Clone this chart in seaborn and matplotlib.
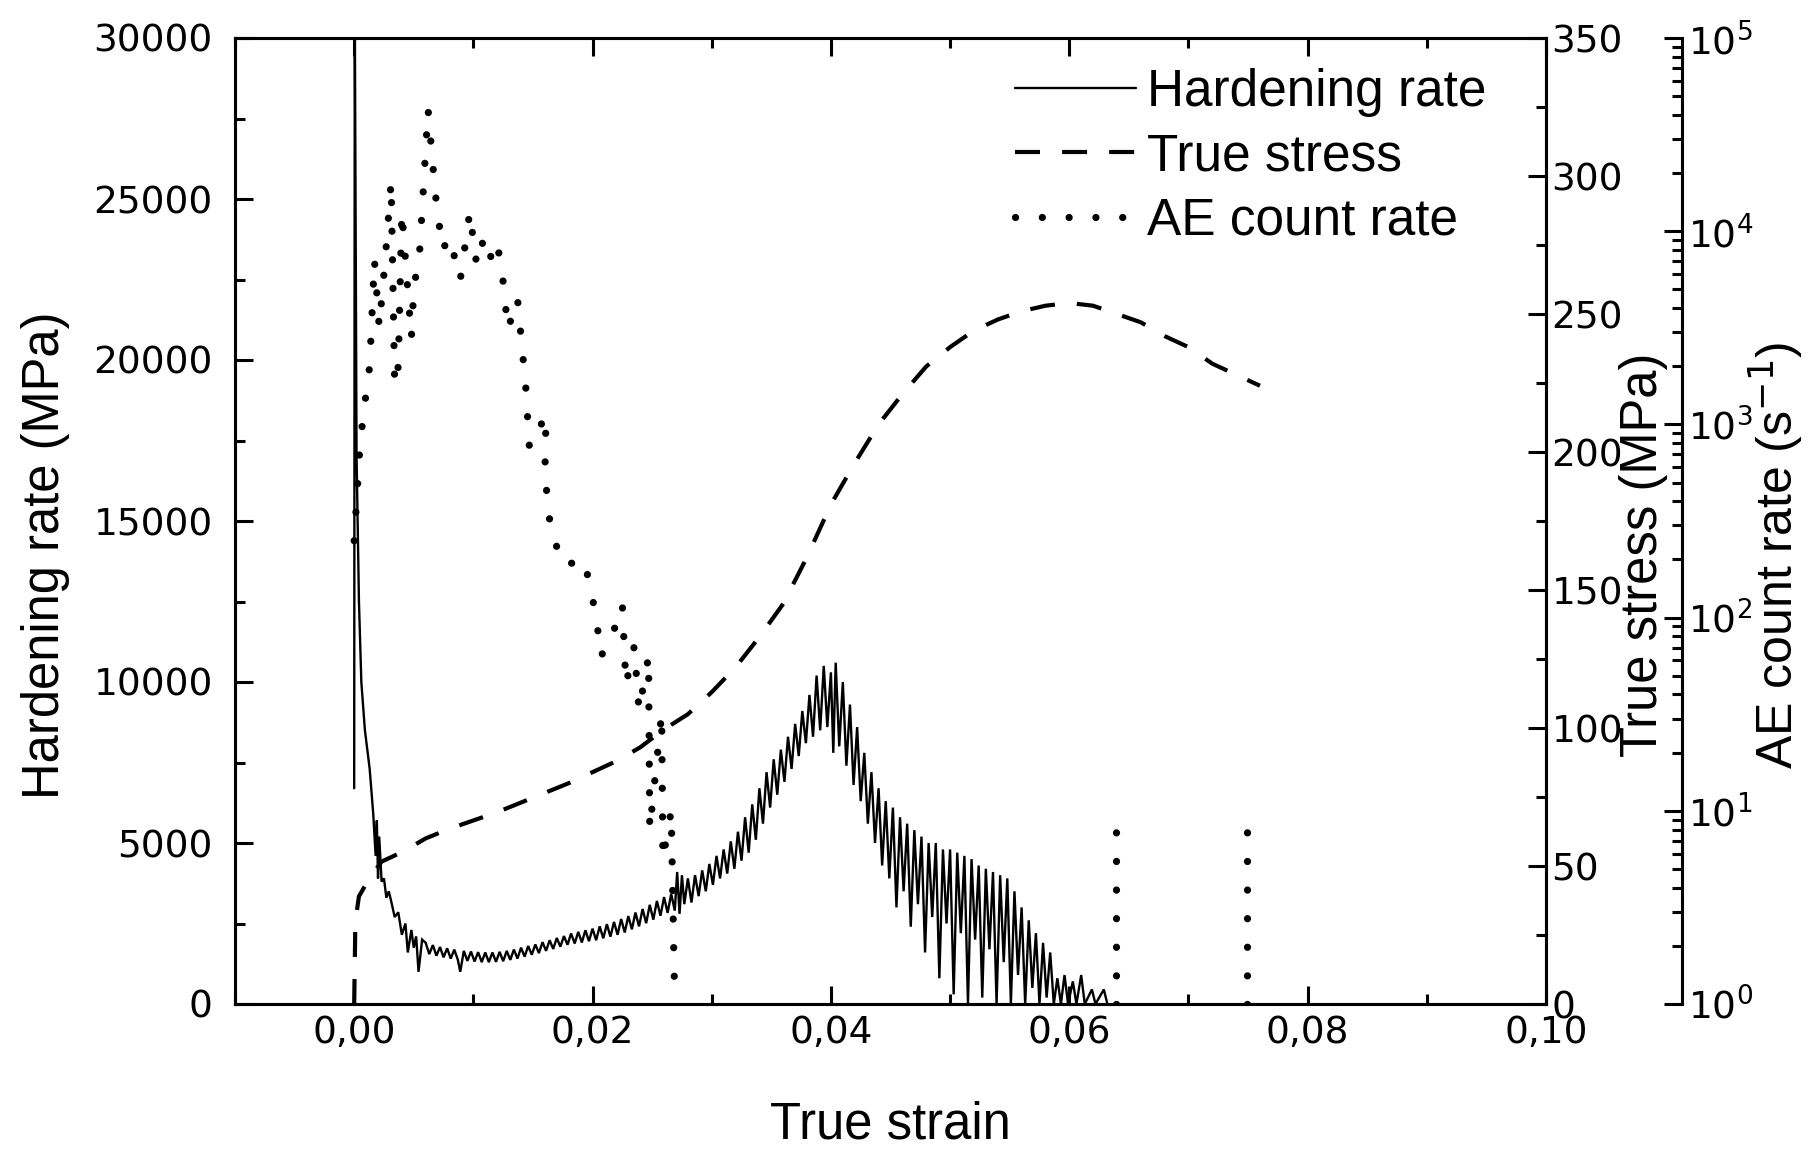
import numpy as np
import pandas as pd
import matplotlib
matplotlib.use("Agg")
import matplotlib.pyplot as plt
import seaborn as sns
from matplotlib.ticker import MultipleLocator, FuncFormatter, LogLocator, NullFormatter
from matplotlib.lines import Line2D

# ---------------- data ----------------
hr_strain = [
    0.0000, 0.00005, 0.0002, 0.0004, 0.0006, 0.0009, 0.0013, 0.0016, 0.0018, 0.0019,
    0.0020, 0.0021, 0.0023, 0.0025, 0.0027, 0.0029, 0.0031, 0.0034, 0.0037, 0.0040,
    0.0043, 0.0045, 0.0048, 0.0050, 0.0052, 0.0054, 0.0057,
    0.0060, 0.0063, 0.0066, 0.0069, 0.0072, 0.0075, 0.0078, 0.0081, 0.0084, 0.0087,
    0.0089, 0.0092, 0.0095, 0.0098, 0.0101, 0.0104, 0.0107, 0.0110, 0.0113, 0.0116,
    0.0119, 0.0122, 0.0125, 0.0128, 0.0131, 0.0134, 0.0137, 0.0140, 0.0143, 0.0146,
    0.0149, 0.0152, 0.0155, 0.0158, 0.0161, 0.0164, 0.0167, 0.0170, 0.0173, 0.0176,
    0.0179, 0.0182, 0.0185, 0.0188, 0.0191, 0.0194, 0.0197, 0.0200, 0.0203, 0.0206,
    0.0209, 0.0212, 0.0215, 0.0218, 0.0221, 0.0224, 0.0227, 0.0230, 0.0233, 0.0236,
    0.0239, 0.0242, 0.0245, 0.0248, 0.0251, 0.0254, 0.0257, 0.0260, 0.0263, 0.0266,
    0.0269, 0.0271, 0.0273, 0.0275, 0.0277, 0.0280, 0.0283, 0.0286, 0.0289, 0.0292,
    0.0295, 0.0298, 0.0301, 0.0304, 0.0307, 0.0310, 0.0313, 0.0316, 0.0319, 0.0322,
    0.0325, 0.0328, 0.0331, 0.0334, 0.0337, 0.0340, 0.0343, 0.0346, 0.0349, 0.0352,
    0.0355, 0.0358, 0.0361, 0.0364, 0.0367, 0.0370, 0.0373, 0.0376, 0.0379, 0.0382,
    0.0385, 0.0388, 0.0391, 0.0394, 0.0397, 0.0400, 0.0402, 0.0404, 0.0407, 0.0410,
    0.0413, 0.0416, 0.0419, 0.0422, 0.0425, 0.0428, 0.0431, 0.0434, 0.0437, 0.0440,
    0.0443, 0.0446, 0.0449, 0.0452, 0.0455, 0.0458, 0.0461, 0.0464, 0.0467, 0.0470,
    0.0473, 0.0476, 0.0479, 0.0482, 0.0485, 0.0488, 0.0491, 0.0494, 0.0497, 0.0500,
    0.0503, 0.0506, 0.0509, 0.0512, 0.0515, 0.0518, 0.0521, 0.0524, 0.0527, 0.0530,
    0.0533, 0.0536, 0.0539, 0.0542, 0.0545, 0.0548, 0.0551, 0.0554, 0.0557, 0.0560,
    0.0563, 0.0566, 0.0569, 0.0572, 0.0575, 0.0578, 0.0581, 0.0584, 0.0587, 0.0590,
    0.0593, 0.0596, 0.0599, 0.0603, 0.0606, 0.0610, 0.0613, 0.0619, 0.0622, 0.0629,
    0.0632,
]
hr_rate = [
    6700, 31000, 17000, 12500, 10000, 8500, 7300, 5900, 4600, 5700,
    3900, 5200, 3800, 3900, 3300, 3500, 3200, 2700, 2850, 2150,
    2500, 1600, 2300, 1750, 2100, 1000, 2000,
    1900, 1550, 1830, 1500, 1770, 1450, 1730, 1410, 1690, 1370,
    1000, 1650, 1340, 1630, 1320, 1610, 1300, 1600, 1300, 1600,
    1310, 1620, 1330, 1650, 1370, 1690, 1410, 1750, 1470, 1800,
    1530, 1850, 1580, 1920, 1650, 1980, 1710, 2050, 1780, 2110,
    1840, 2190, 1880, 2240, 1910, 2290, 1950, 2340, 1980, 2410,
    2040, 2480, 2090, 2550, 2150, 2640, 2220, 2730, 2320, 2840,
    2410, 2950, 2510, 3080, 2620, 3200, 2740, 3320, 2830, 3420,
    2900, 4100, 2800, 4000, 3100, 3900, 3150, 4000, 3350, 4150,
    3500, 4350, 3700, 4600, 3900, 4800, 4050, 5050, 4200, 5350,
    4450, 5800, 4700, 6200, 5100, 6700, 5600, 7200, 6100, 7600,
    6500, 7900, 6900, 8300, 7300, 8700, 7700, 9100, 8100, 9600,
    8300, 10200, 8500, 10500, 8600, 10300, 7800, 10600, 8000, 10000,
    7400, 9300, 6800, 8600, 6300, 7800, 5600, 7200, 5000, 6700,
    4300, 6300, 3900, 6100, 3000, 5800, 3500, 5600, 2400, 5400,
    3100, 5200, 1600, 5000, 2700, 5000, 800, 4800, 2500, 4800,
    300, 4700, 2200, 4600, 0, 4500, 2000, 4300, 200, 4200,
    1700, 4100, 0, 4000, 1300, 3900, 0, 3500, 900, 3000,
    0, 2600, 500, 2200, 0, 1900, 200, 1600, 0, 800,
    0, 900, 0, 700, 0, 900, 0, 450, 0, 450,
    0,
]

stress_strain = [0.0000, 0.0001, 0.0004, 0.0012, 0.0023, 0.0041, 0.0060, 0.0080,
                 0.0100, 0.0120, 0.0140, 0.0160, 0.0180, 0.0200, 0.0220, 0.0240,
                 0.0260, 0.0280, 0.0300, 0.0320, 0.0340, 0.0360, 0.0380, 0.0400,
                 0.0420, 0.0440, 0.0460, 0.0480, 0.0500, 0.0520, 0.0540, 0.0560,
                 0.0580, 0.0600, 0.0620, 0.0640, 0.0660, 0.0680, 0.0700, 0.0720,
                 0.0740, 0.0760]
stress_mpa = [0, 30, 39, 45, 51.6, 55.2, 60, 63.5,
              66.5, 69.5, 73, 76.5, 80, 84, 88, 93,
              99.5, 105, 113, 122, 133, 145, 162, 181,
              196, 210, 221, 231, 238, 244, 248, 251,
              253, 254, 253, 250, 247, 242, 238, 232,
              228, 224]

ae_strain = [0.0000, 0.0005, 0.0009, 0.0013, 0.0017, 0.0021, 0.0026, 0.0031, 0.0034, 0.0037,
             0.0040, 0.0048, 0.0050, 0.0055, 0.0062, 0.0068, 0.0074, 0.0080, 0.0089, 0.0097,
             0.0102, 0.0106, 0.0113, 0.0118, 0.0123, 0.0129, 0.0137, 0.0144, 0.0147, 0.0161,
             0.0160, 0.0165, 0.0176, 0.0193, 0.0203, 0.0207, 0.0216, 0.0225, 0.0228, 0.0235,
             0.0239, 0.0247, 0.0248, 0.0258, 0.0259, 0.0266, 0.0269,
             0.0639, 0.0639,
             0.0749, 0.0749]
ae_rate = [250, 800, 1300, 2000, 7100, 3200, 7100, 18000, 1600, 2000,
           12600, 2800, 5000, 8000, 42700, 15800, 8000, 9300, 5600, 12600,
           7100, 9300, 6800, 8900, 7200, 3100, 4500, 1550, 760, 1120,
           550, 280, 186, 200, 102, 63, 79, 117, 45, 71,
           33, 63, 8, 32, 5.6, 10, 1,
           1, 8,
           1, 8]
ae_burst = [0] * 47 + [1, 1] + [2, 2]

# ---------------- style ----------------
sns.set_theme(style="ticks")
plt.rcParams['font.family'] = ['DejaVu Sans']
for k in ['text.color', 'axes.labelcolor', 'xtick.color', 'ytick.color', 'axes.edgecolor']:
    plt.rcParams[k] = 'black'

LABEL_FONT = 'Liberation Sans'
LABEL_SIZE = 36.5
TICK_SIZE = 27
SPINE_W = 2.2
HR_LW = 1.7
ST_LW = 3.0
AE_LW = 5.2
ST_DASH = [6.0, 5.3]
AE_DASH = [0.01, 3.95]

fig = plt.figure(figsize=(18.09, 11.51), dpi=100)
ax = fig.add_axes([235 / 1809, 1 - 1004 / 1151, 1311 / 1809, 966 / 1151])
ax2 = ax.twinx()
ax3 = ax.twinx()

df_hr = pd.DataFrame({'strain': hr_strain, 'rate': hr_rate})
df_st = pd.DataFrame({'strain': stress_strain, 'stress': stress_mpa})
df_ae = pd.DataFrame({'strain': ae_strain, 'ae': ae_rate, 'burst': ae_burst})

sns.lineplot(data=df_hr, x='strain', y='rate', ax=ax, color='black', linewidth=HR_LW,
             estimator=None, sort=False, legend=False)
sns.lineplot(data=df_st, x='strain', y='stress', ax=ax2, color='black', linewidth=ST_LW,
             estimator=None, sort=False, legend=False)
sns.lineplot(data=df_ae, x='strain', y='ae', units='burst', ax=ax3, color='black',
             linewidth=AE_LW, estimator=None, sort=False, legend=False)

for ln in ax.lines:
    ln.set_solid_joinstyle('miter')
for ln in ax2.lines:
    ln.set_dashes(ST_DASH)
    ln.set_dash_capstyle('butt')
for ln in ax3.lines:
    ln.set_dashes(AE_DASH)
    ln.set_dash_capstyle('round')

# ---------------- axes ----------------
ax.set_xlim(-0.01, 0.10)
ax.set_ylim(0, 30000)
ax2.set_ylim(0, 350)
ax3.set_yscale('log')
ax3.set_ylim(1, 1e5)

ax.xaxis.set_major_locator(MultipleLocator(0.02))
ax.xaxis.set_minor_locator(MultipleLocator(0.01))
ax.xaxis.set_major_formatter(FuncFormatter(lambda v, p: f"{v:.2f}".replace('.', ',')))
ax.yaxis.set_major_locator(MultipleLocator(5000))
ax.yaxis.set_minor_locator(MultipleLocator(2500))
ax.yaxis.set_major_formatter(FuncFormatter(lambda v, p: f"{int(round(v))}"))
ax2.yaxis.set_major_locator(MultipleLocator(50))
ax2.yaxis.set_minor_locator(MultipleLocator(25))
ax2.yaxis.set_major_formatter(FuncFormatter(lambda v, p: f"{int(round(v))}"))
ax3.yaxis.set_major_locator(LogLocator(base=10, numticks=10))
ax3.yaxis.set_minor_locator(LogLocator(base=10, subs=np.arange(2, 10), numticks=20))
ax3.yaxis.set_minor_formatter(NullFormatter())

ax.tick_params(axis='x', which='both', direction='in', top=True, bottom=True,
               labelsize=TICK_SIZE, pad=8, width=SPINE_W)
ax.tick_params(axis='y', which='both', direction='in', left=True, right=False,
               labelsize=TICK_SIZE, pad=16, width=SPINE_W)
ax2.tick_params(axis='y', which='both', direction='in', right=True, left=False,
                labelsize=TICK_SIZE, pad=4, width=SPINE_W)
ax3.tick_params(axis='y', which='both', direction='in', right=True, left=False,
                labelsize=TICK_SIZE, pad=4, width=SPINE_W)
for a in (ax, ax2, ax3):
    a.tick_params(which='major', length=13)
    a.tick_params(which='minor', length=7)

for a in (ax, ax2):
    for s in a.spines.values():
        s.set_linewidth(SPINE_W)
        s.set_color('black')
for name in ('left', 'top', 'bottom'):
    ax3.spines[name].set_visible(False)
ax3.spines['right'].set_position(('axes', 1 + 136 / 1311))
ax3.spines['right'].set_linewidth(SPINE_W)
ax3.spines['right'].set_color('black')
ax3.patch.set_visible(False)
ax2.patch.set_visible(False)

ax.set_xlabel('True strain', fontfamily=LABEL_FONT, fontsize=LABEL_SIZE)
ax.xaxis.set_label_coords(0.5, -0.100)
ax.set_ylabel('Hardening rate (MPa)', fontfamily=LABEL_FONT, fontsize=LABEL_SIZE)
ax.yaxis.set_label_coords((70 - 235) / 1311, 0.465)
ax2.set_ylabel('True stress (MPa)', fontfamily=LABEL_FONT, fontsize=LABEL_SIZE)
ax2.yaxis.set_label_coords((1619 - 235) / 1311, 0.465)
ax3.set_ylabel('AE count rate (s$^{-1}$)', fontfamily=LABEL_FONT, fontsize=36)
ax3.yaxis.set_label_coords((1746 - 235) / 1311, 0.465)

handles = [
    Line2D([], [], color='black', linewidth=HR_LW),
    Line2D([], [], color='black', linewidth=ST_LW, dashes=ST_DASH, dash_capstyle='butt'),
    Line2D([], [], color='black', linewidth=AE_LW, dashes=[0.01, 3.7], dash_capstyle='round'),
]
leg = ax3.legend(handles, ['Hardening rate', 'True stress', 'AE count rate'],
                 loc='upper left', bbox_to_anchor=(1015 / 1809, 1 - 68 / 1151),
                 bbox_transform=fig.transFigure, frameon=False,
                 prop={'family': LABEL_FONT, 'size': 37},
                 handlelength=2.35, handletextpad=0.22, labelspacing=0.3,
                 borderpad=0, borderaxespad=0)

fig.savefig('out.png', dpi=100)
